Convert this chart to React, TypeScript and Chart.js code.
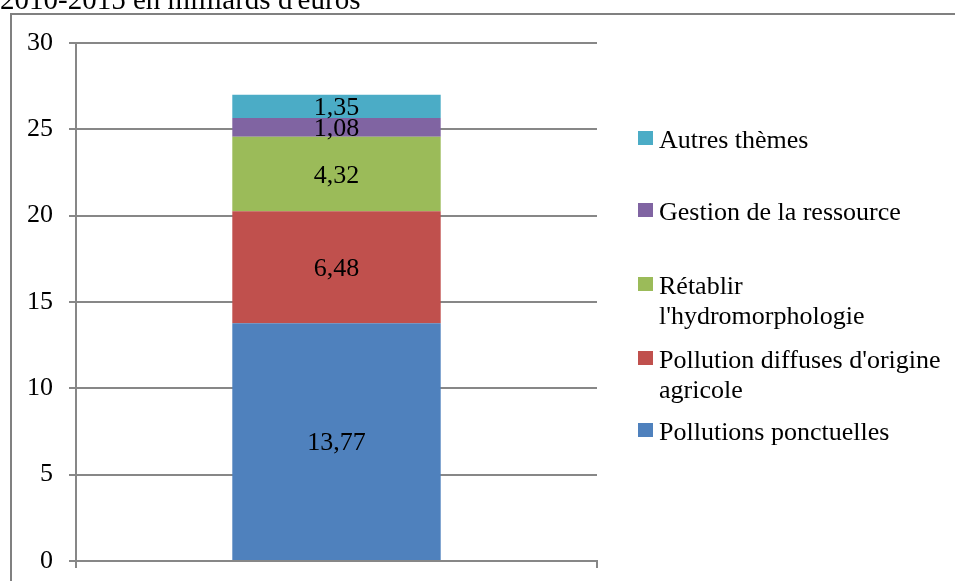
import React, { useEffect, useRef } from 'react';
import { Chart, registerables } from 'chart.js';

Chart.register(...registerables);

const categories = [''];
const seriesLabels = [
  'Pollutions ponctuelles',
  "Pollution diffuses d'origine agricole",
  "Rétablir l'hydromorphologie",
  'Gestion de la ressource',
  'Autres thèmes',
];
const seriesValues = [13.77, 6.48, 4.32, 1.08, 1.35];
const seriesColors = ['#4F81BD', '#C0504D', '#9BBB59', '#8064A2', '#4BACC6'];
const yMin = 0;
const yMax = 30;
const yStep = 5;
const titleText = "2010-2015 en milliards d'euros";

const FONT = '"Liberation Serif", "Times New Roman", serif';
const FONT_SIZE = 26;
const GRID = '#878787';

function fmt(v: number) {
  return v.toFixed(2).replace('.', ',');
}

function wrap(ctx: CanvasRenderingContext2D, text: string, maxW: number): string[] {
  const words = text.split(' ');
  const lines: string[] = [];
  let cur = '';
  for (const w of words) {
    const t = cur ? cur + ' ' + w : w;
    if (ctx.measureText(t).width > maxW && cur) {
      lines.push(cur);
      cur = w;
    } else cur = t;
  }
  if (cur) lines.push(cur);
  return lines;
}

const decorPlugin = {
  id: 'decor',
  beforeDraw(chart: any) {
    const ctx = chart.ctx as CanvasRenderingContext2D;
    ctx.save();
    ctx.strokeStyle = '#808080';
    ctx.lineWidth = 2;
    ctx.beginPath();
    ctx.moveTo(11, 600);
    ctx.lineTo(11, 14);
    ctx.lineTo(980, 14);
    ctx.stroke();
    ctx.fillStyle = '#000';
    ctx.font = `29px ${FONT}`;
    ctx.textAlign = 'left';
    ctx.textBaseline = 'alphabetic';
    ctx.fillText(titleText, 0, 9);
    ctx.restore();
  },
  afterDatasetsDraw(chart: any) {
    const ctx = chart.ctx as CanvasRenderingContext2D;
    ctx.save();
    ctx.fillStyle = '#000';
    ctx.font = `${FONT_SIZE}px ${FONT}`;
    ctx.textAlign = 'center';
    ctx.textBaseline = 'middle';
    chart.data.datasets.forEach((ds: any, i: number) => {
      const meta = chart.getDatasetMeta(i);
      meta.data.forEach((el: any, j: number) => {
        const v = ds.data[j];
        const cy = (el.y + el.base) / 2;
        ctx.fillText(fmt(v), el.x, cy + 2);
      });
    });
    ctx.restore();
  },
  afterDraw(chart: any) {
    const ctx = chart.ctx as CanvasRenderingContext2D;
    ctx.save();
    ctx.font = `${FONT_SIZE}px ${FONT}`;
    ctx.textAlign = 'left';
    ctx.textBaseline = 'alphabetic';
    const baselines = [148, 220, 294, 368, 440];
    const n = chart.data.datasets.length;
    for (let k = 0; k < n; k++) {
      const ds = chart.data.datasets[n - 1 - k];
      const by = baselines[k];
      ctx.fillStyle = ds.backgroundColor;
      ctx.fillRect(638, by - 17, 15, 14);
      ctx.fillStyle = '#000';
      const lines = wrap(ctx, ds.label, 289);
      lines.forEach((ln, li) => ctx.fillText(ln, 659, by + li * 30));
    }
    ctx.restore();
  },
};

export default function App() {
  const ref = useRef<HTMLCanvasElement | null>(null);
  useEffect(() => {
    if (!ref.current) return;
    const chart = new Chart(ref.current, {
      type: 'bar',
      data: {
        labels: categories,
        datasets: seriesLabels.map((label, i) => ({
          label,
          data: [seriesValues[i]],
          backgroundColor: seriesColors[i],
          borderWidth: 0,
          barPercentage: 0.4,
          categoryPercentage: 1,
          stack: 's',
        })),
      },
      options: {
        responsive: false,
        animation: false,
        layout: { padding: { left: 10, top: 43, right: 358, bottom: 0 } },
        plugins: { legend: { display: false }, tooltip: { enabled: false }, title: { display: false } },
        scales: {
          x: {
            stacked: true,
            offset: true,
            grid: { display: true, drawOnChartArea: false, drawTicks: true, tickLength: 7, color: GRID, lineWidth: 2 },
            border: { display: true, color: GRID, width: 2 },
            ticks: { display: false },
            afterFit(scale: any) { scale.height = 20; scale.paddingLeft = 0; scale.paddingRight = 0; },
          },
          y: {
            stacked: true,
            min: yMin,
            max: yMax,
            ticks: {
              stepSize: yStep,
              color: '#000',
              padding: 16,
              font: { family: FONT, size: FONT_SIZE },
            },
            grid: { color: GRID, lineWidth: 2, tickLength: 7 },
            border: { display: true, color: GRID, width: 2 },
            afterFit(scale: any) { scale.width = 66; scale.paddingTop = 0; scale.paddingBottom = 0; },
          },
        },
      },
      plugins: [decorPlugin],
    });
    return () => chart.destroy();
  }, []);
  return (
    <div style={{ position: 'fixed', left: 0, top: 0, width: 955, height: 581, background: '#fff' }}>
      <canvas ref={ref} width={955} height={581} />
    </div>
  );
}
